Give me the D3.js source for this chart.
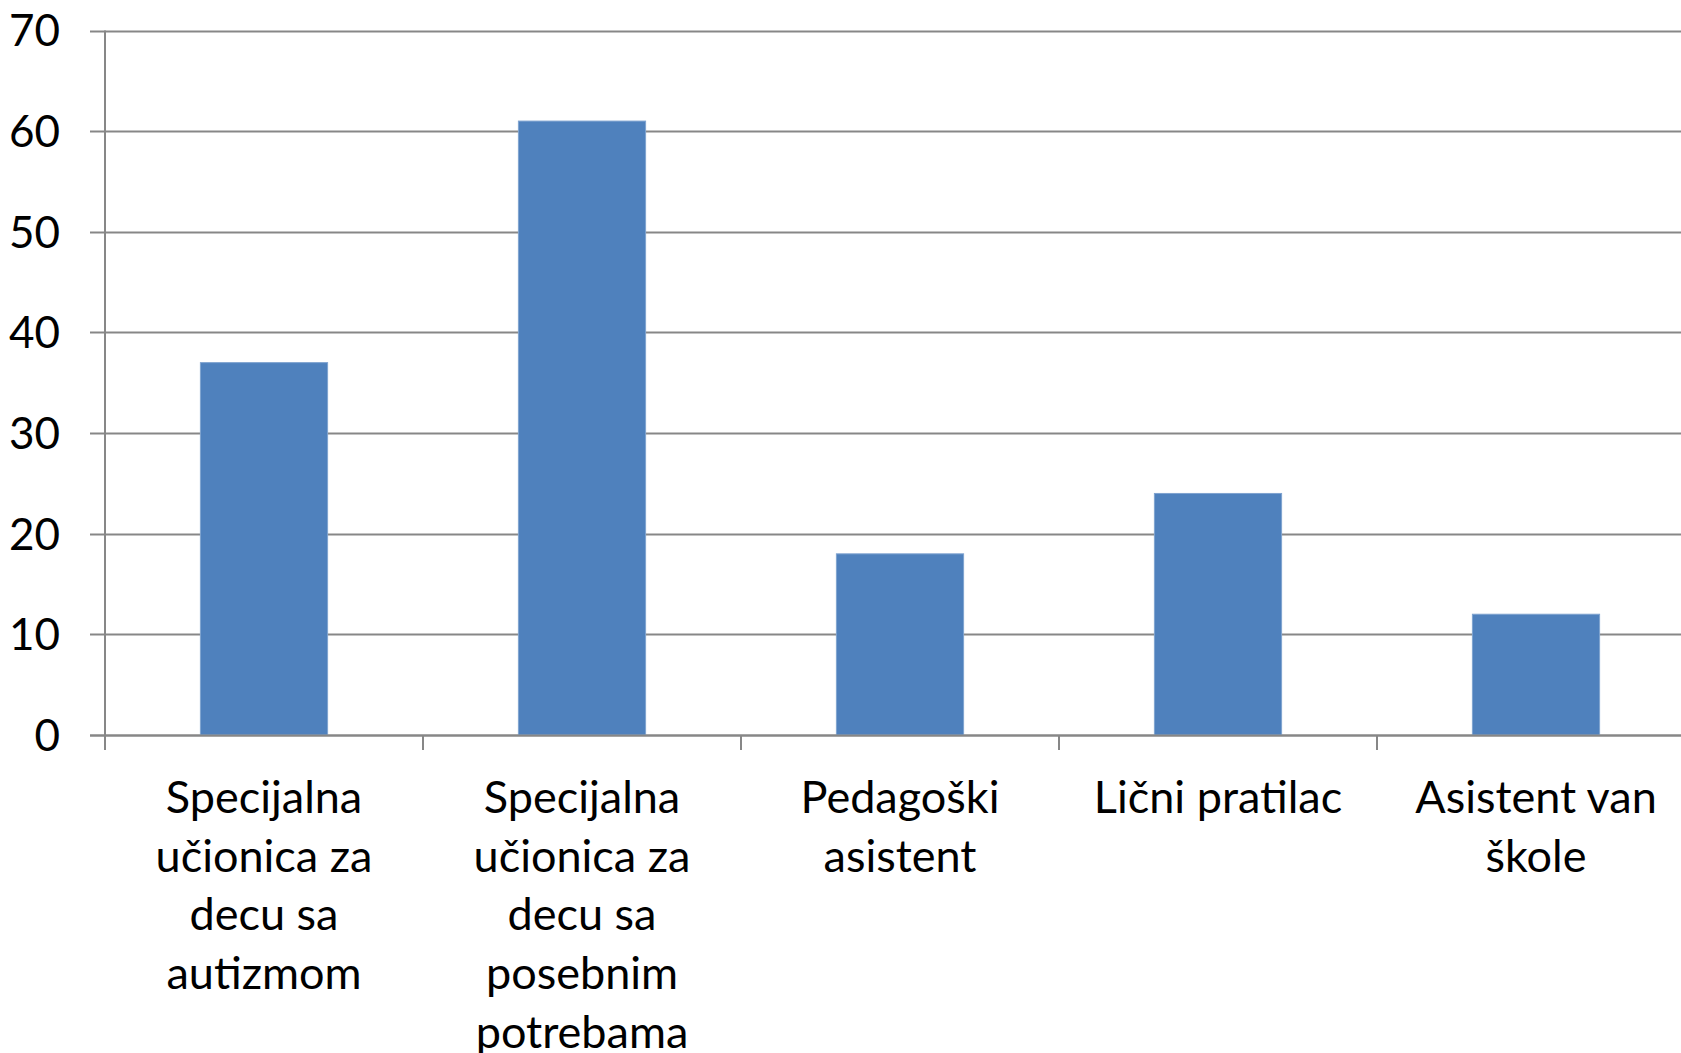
<!DOCTYPE html>
<html>
<head>
<meta charset="utf-8">
<script src="https://cdn.jsdelivr.net/npm/d3@7"></script>
<style>
    body { margin: 0; background: #fff; }
    svg { display: block; }
    .axis text { font-family: Lato, "Open Sans", sans-serif; fill: #000; }
</style>
</head>
<body>
<div id="chart"></div>
<script>
// categories (line breaks as in the picture)
const categories = [
    "Specijalna\nučionica za\ndecu sa\nautizmom",
    "Specijalna\nučionica za\ndecu sa\nposebnim\npotrebama",
    "Pedagoški\nasistent",
    "Lični pratilac",
    "Asistent van\nškole"
];
const values = [37, 61, 18, 24, 12];
const yTicks = [0, 10, 20, 30, 40, 50, 60, 70];

const width = 1681,
    height = 1053;

// plot area (right side runs off the picture like the original)
const margin = { top: 30.5, left: 105, bottom: 735, right: 1695 };
const fontSize = 45,
    yFontSize = 44,
    lineHeight = 58.7,
    gridColor = "#878787",
    barColor = "#4F81BD";

var svg = d3.select("#chart")
    .append("svg")
    .attr("width", width)
    .attr("height", height);

var y = d3.scaleLinear()
    .domain([0, 70])
    .range([margin.bottom, margin.top]);

var x = d3.scaleBand()
    .domain(categories)
    .range([margin.left, margin.right])
    .paddingInner(0.6)
    .paddingOuter(0.3);

// outer band scale (no padding) for category tick marks
var xOuter = d3.scaleBand()
    .domain(categories)
    .range([margin.left, margin.right]);

// horizontal gridlines + y tick marks
svg.append("g")
    .selectAll("line")
    .data(yTicks)
    .enter()
    .append("line")
    .attr("x1", margin.left - 15)
    .attr("x2", width)
    .attr("y1", d => Math.round(y(d)) + 0.5)
    .attr("y2", d => Math.round(y(d)) + 0.5)
    .attr("stroke", gridColor)
    .attr("stroke-width", 2);

// y labels
svg.append("g")
    .attr("class", "axis")
    .selectAll("text")
    .data(yTicks)
    .enter()
    .append("text")
    .attr("x", 60)
    .attr("y", d => y(d))
    .attr("dy", "0.36em")
    .attr("text-anchor", "end")
    .style("font-size", yFontSize + "px")
    .text(d => d);

// vertical axis line
svg.append("line")
    .attr("x1", margin.left)
    .attr("x2", margin.left)
    .attr("y1", margin.top)
    .attr("y2", margin.bottom + 15)
    .attr("stroke", gridColor)
    .attr("stroke-width", 2);

// category tick marks
svg.append("g")
    .selectAll("line")
    .data(categories.slice(1))
    .enter()
    .append("line")
    .attr("x1", d => xOuter(d))
    .attr("x2", d => xOuter(d))
    .attr("y1", margin.bottom)
    .attr("y2", margin.bottom + 15)
    .attr("stroke", gridColor)
    .attr("stroke-width", 2);

// bars
svg.append("g")
    .selectAll("rect")
    .data(values)
    .enter()
    .append("rect")
    .attr("x", (d, i) => x(categories[i]))
    .attr("y", d => y(d))
    .attr("width", x.bandwidth())
    .attr("height", d => y(0) - y(d))
    .attr("fill", barColor)
    .attr("stroke", "#7fa3d0")
    .attr("stroke-width", 1);

// redraw baseline over bars
svg.append("line")
    .attr("x1", margin.left - 15)
    .attr("x2", width)
    .attr("y1", Math.round(y(0)) + 0.5)
    .attr("y2", Math.round(y(0)) + 0.5)
    .attr("stroke", gridColor)
    .attr("stroke-width", 2);

// x labels, multi-line
var labels = svg.append("g")
    .attr("class", "axis")
    .selectAll("text")
    .data(categories)
    .enter()
    .append("text")
    .attr("text-anchor", "middle")
    .attr("transform", d => "translate(" + (x(d) + x.bandwidth() / 2) + ",813)")
    .style("font-size", fontSize + "px");

labels.selectAll("tspan")
    .data(d => d.split("\n"))
    .enter()
    .append("tspan")
    .attr("x", 0)
    .attr("y", (d, i) => i * lineHeight)
    .text(d => d);
</script>
</body>
</html>
